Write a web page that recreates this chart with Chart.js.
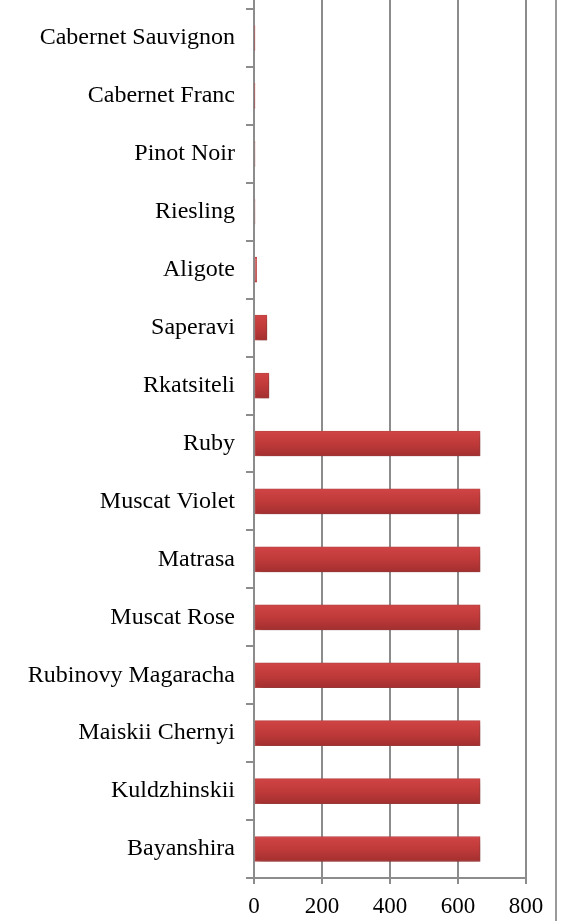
<!DOCTYPE html>
<html>
<head>
<meta charset="utf-8">
<script src="https://cdn.jsdelivr.net/npm/chart.js@4/dist/chart.umd.min.js"></script>
<style>
  html, body { margin: 0; padding: 0; background: #fff; }
  #wrap { width: 562px; height: 921px; }
</style>
</head>
<body>
<div id="wrap"><canvas id="chart" width="562" height="921"></canvas></div>
<script>
// grape varieties, top to bottom as shown
const varieties = [
  "Cabernet Sauvignon", "Cabernet Franc", "Pinot Noir", "Riesling", "Aligote",
  "Saperavi", "Rkatsiteli", "Ruby", "Muscat Violet", "Matrasa", "Muscat Rose",
  "Rubinovy Magaracha", "Maiskii Chernyi", "Kuldzhinskii", "Bayanshira"
];
const amounts = [2, 2, 3, 3, 8, 38, 44, 665, 665, 665, 665, 665, 665, 665, 665];
const xTicks = [0, 200, 400, 600, 800];

const axisGray = "#8c8c8c";
const BAR_H = 25;

// vertical red gradient per bar, built from the category scale
function barFill(c) {
  const chart = c.chart;
  const y = chart.scales.y;
  if (!y || c.dataIndex === undefined) return "#c03a3a";
  const mid = y.getPixelForValue(c.dataIndex);
  if (!isFinite(mid)) return "#c03a3a";
  const g = chart.ctx.createLinearGradient(0, mid - BAR_H / 2, 0, mid + BAR_H / 2);
  g.addColorStop(0, "#d04444");
  g.addColorStop(0.5, "#c03a3a");
  g.addColorStop(1, "#a32f2f");
  return g;
}

const shadowPlugin = {
  id: "shadow",
  beforeDatasetsDraw(chart) {
    const ctx = chart.ctx;
    ctx.save();
    ctx.shadowColor = "rgba(0,0,0,0.28)";
    ctx.shadowBlur = 6;
    ctx.shadowOffsetX = 3;
    ctx.shadowOffsetY = 3;
  },
  afterDatasetsDraw(chart) {
    chart.ctx.restore();
  }
};

// grid lines run up to the top edge, plus the frame line on the right
const frameLine = {
  id: "frameLine",
  afterDraw(chart) {
    const ctx = chart.ctx;
    const x = chart.scales.x;
    ctx.save();
    ctx.strokeStyle = axisGray;
    ctx.lineWidth = 2;
    xTicks.forEach(v => {
      const px = x.getPixelForValue(v);
      ctx.beginPath();
      ctx.moveTo(px, 0);
      ctx.lineTo(px, chart.chartArea.top + 1);
      ctx.stroke();
    });
    ctx.strokeStyle = "#9a9a9a";
    ctx.beginPath();
    ctx.moveTo(chart.width - 6, 0);
    ctx.lineTo(chart.width - 6, chart.height);
    ctx.stroke();
    ctx.restore();
  }
};

new Chart(document.getElementById("chart"), {
  type: "bar",
  data: {
    labels: varieties,
    datasets: [{
      data: amounts,
      backgroundColor: barFill,
      borderColor: "#c44848",
      borderWidth: 1,
      borderSkipped: false,
      barThickness: BAR_H
    }]
  },
  options: {
    indexAxis: "y",
    responsive: false,
    animation: false,
    events: [],
    layout: { padding: { top: 9, right: 36, left: 0, bottom: 0 } },
    plugins: {
      legend: { display: false },
      tooltip: { enabled: false }
    },
    scales: {
      x: {
        min: 0,
        max: 800,
        afterBuildTicks(scale) {
          scale.ticks = xTicks.map(v => ({ value: v }));
        },
        afterFit(scale) { scale.height = 43; },
        grid: {
          color: axisGray,
          lineWidth: 2,
          tickLength: 6,
          drawTicks: true
        },
        border: { display: true, color: axisGray, width: 2 },
        ticks: {
          color: "#000",
          padding: 9,
          font: { family: "Liberation Serif", size: 23 }
        }
      },
      y: {
        afterFit(scale) {
          scale.width = 254;
          scale.paddingTop = 0;
          scale.paddingBottom = 0;
        },
        grid: {
          offset: true,
          drawOnChartArea: false,
          color: axisGray,
          lineWidth: 2,
          tickLength: 8
        },
        border: { display: true, color: axisGray, width: 2 },
        ticks: {
          color: "#000",
          padding: 11,
          autoSkip: false,
          font: { family: "Liberation Serif", size: 24 }
        }
      }
    }
  },
  plugins: [shadowPlugin, frameLine]
});
</script>
</body>
</html>
